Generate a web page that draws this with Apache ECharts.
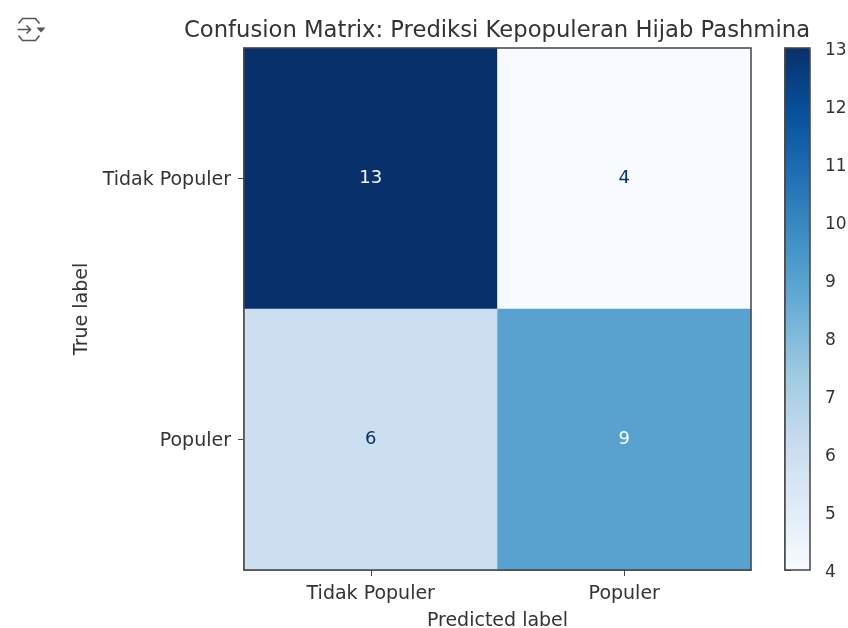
<!DOCTYPE html>
<html>
<head>
<meta charset="utf-8">
<style>
  html, body { margin: 0; padding: 0; background: #fff; }
  #chart { width: 848px; height: 628px; }
</style>
<script src="https://cdn.jsdelivr.net/npm/echarts@6/dist/echarts.min.js"></script>
</head>
<body>
<div id="chart"></div>
<script>
var labels = ['Tidak Populer', 'Populer'];
var cells = [
    [0, 0, 13],
    [1, 0, 4],
    [0, 1, 6],
    [1, 1, 9]
];
var blues = ['#f7fbff', '#deebf7', '#c6dbef', '#9ecae1', '#6baed6', '#4292c6', '#2171b5', '#08519c', '#08306b'];
var scaleMin = 4;
var scaleMax = 13;

var font = '"DejaVu Sans", sans-serif';
var ink = '#333';
var spine = '#444';

var chart = echarts.init(document.getElementById('chart'));

chart.setOption({
    animation: false,
    backgroundColor: '#fff',
    title: {
        text: 'Confusion Matrix: Prediksi Kepopuleran Hijab Pashmina',
        left: 492,
        top: 15,
        textAlign: 'center',
        textStyle: { fontFamily: font, fontSize: 22.7, fontWeight: 'normal', color: ink }
    },
    grid: [
        { left: 244, top: 48, width: 507, height: 522, show: true, z: 5, borderColor: spine, borderWidth: 1.5, backgroundColor: 'transparent', outerBoundsMode: 'none' },
        { left: 785, top: 48, width: 25, height: 522, show: true, z: 5, borderColor: spine, borderWidth: 1.5, backgroundColor: 'transparent', outerBoundsMode: 'none' }
    ],
    xAxis: [
        {
            type: 'category',
            gridIndex: 0,
            data: labels,
            name: 'Predicted label',
            nameLocation: 'middle',
            nameGap: 42,
            nameTextStyle: { fontFamily: font, fontSize: 19, color: ink },
            axisLine: { show: true, lineStyle: { color: spine, width: 1.5 } },
            axisTick: { show: true, alignWithLabel: true, length: 6, lineStyle: { color: spine } },
            axisLabel: { fontFamily: font, fontSize: 19, color: ink, margin: 15 },
            splitLine: { show: false }
        },
        { type: 'value', gridIndex: 1, show: false, min: 0, max: 1 }
    ],
    yAxis: [
        {
            type: 'category',
            gridIndex: 0,
            data: labels,
            inverse: true,
            name: 'True label',
            nameLocation: 'middle',
            nameGap: 148,
            nameTextStyle: { fontFamily: font, fontSize: 19, color: ink },
            axisLine: { show: true, lineStyle: { color: spine, width: 1.5 } },
            axisTick: { show: true, alignWithLabel: true, length: 6, lineStyle: { color: spine } },
            axisLabel: {
                margin: 13,
                formatter: '{v|{value}}',
                rich: { v: { fontFamily: font, fontSize: 19, color: ink, padding: [4, 0, 0, 0] } }
            },
            splitLine: { show: false }
        },
        {
            type: 'value',
            gridIndex: 1,
            position: 'right',
            min: scaleMin,
            max: scaleMax,
            interval: 1,
            axisLine: { show: true, lineStyle: { color: spine, width: 1.5 } },
            axisTick: { show: true, length: 6, lineStyle: { color: spine } },
            axisLabel: {
                margin: 15,
                showMinLabel: true,
                showMaxLabel: true,
                formatter: '{v|{value}}',
                rich: { v: { fontFamily: font, fontSize: 17, color: ink, padding: [5, 0, 0, 0] } }
            },
            splitLine: { show: false }
        }
    ],
    visualMap: {
        type: 'continuous',
        seriesIndex: 0,
        min: scaleMin,
        max: scaleMax,
        calculable: false,
        left: 785,
        top: 48,
        itemWidth: 25,
        itemHeight: 522,
        padding: 0,
        inRange: { color: blues }
    },
    series: [{
        type: 'heatmap',
        xAxisIndex: 0,
        yAxisIndex: 0,
        data: cells.map(function (c) {
            return {
                value: c,
                label: { color: c[2] > (scaleMin + scaleMax) / 2 ? '#f7fbff' : '#08306b' }
            };
        }),
        label: {
            show: true,
            fontFamily: font,
            fontSize: 18,
            formatter: function (p) { return p.value[2]; }
        },
        emphasis: { disabled: true }
    }],
    graphic: [{
        type: 'group',
        left: 15,
        top: 16,
        children: [
            { type: 'polyline', shape: { points: [[1, 5], [5, 0], [18, 0], [22, 5]] }, style: { stroke: '#555', lineWidth: 1.5, fill: null } },
            { type: 'polyline', shape: { points: [[1, 17], [5, 22], [18, 22], [22, 17]] }, style: { stroke: '#555', lineWidth: 1.5, fill: null } },
            { type: 'line', shape: { x1: 0, y1: 11, x2: 13, y2: 11 }, style: { stroke: '#555', lineWidth: 1.5 } },
            { type: 'polyline', shape: { points: [[9, 7], [13, 11], [9, 15]] }, style: { stroke: '#555', lineWidth: 1.5, fill: null } },
            { type: 'polygon', shape: { points: [[19, 9], [28, 9], [23.5, 14]] }, style: { fill: '#555' } }
        ]
    }]
});
</script>
</body>
</html>
